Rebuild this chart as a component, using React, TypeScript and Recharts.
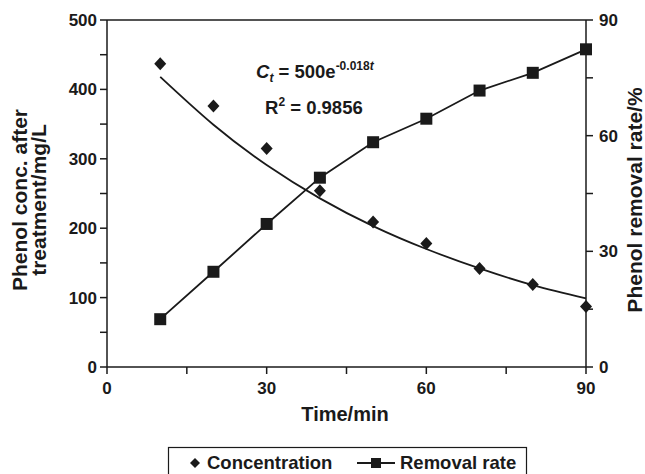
import { ComposedChart, Line, Scatter, XAxis, YAxis, ReferenceLine } from "recharts";

const times = [10, 20, 30, 40, 50, 60, 70, 80, 90];
const concentration = [437, 376, 315, 254, 209, 178, 142, 119, 87];
const fittedCurve = [418, 349, 291, 243, 203, 170, 142, 118, 99];
const removalRate = [12.4, 24.7, 37.1, 49.1, 58.3, 64.4, 71.7, 76.3, 82.4];

const timeTicks = [0, 15, 30, 45, 60, 75, 90];
const concTicks = [0, 50, 100, 150, 200, 250, 300, 350, 400, 450, 500];
const rateTicks = [0, 15, 30, 45, 60, 75, 90];

const FONT = '"Liberation Sans", Arial, Helvetica, sans-serif';
const INK = "#1a1a1a";

const data = times.map((t, i) => ({
  t,
  conc: concentration[i],
  fit: fittedCurve[i],
  removal: removalRate[i],
}));

const tickStyle = { fontSize: 17, fontWeight: 700, fill: INK, fontFamily: FONT };

const Diamond = (props: any) => {
  const { cx, cy } = props;
  if (cx == null || cy == null) return null;
  return (
    <polygon
      points={`${cx},${cy - 6.5} ${cx + 6},${cy} ${cx},${cy + 6.5} ${cx - 6},${cy}`}
      fill={INK}
    />
  );
};

const Square = (props: any) => {
  const { cx, cy, index } = props;
  if (cx == null || cy == null) return null;
  return <rect key={`sq-${index}`} x={cx - 6} y={cy - 6} width={12} height={12} fill={INK} />;
};

const LeftTitle = () => (
  <text
    transform="translate(27, 200) rotate(-90)"
    textAnchor="middle"
    fontFamily={FONT}
    fontWeight={700}
    fontSize={21}
    fill={INK}
  >
    <tspan x={0} dy={0}>Phenol conc. after</tspan>
    <tspan x={0} dy={19}>treatment/mg/L</tspan>
  </text>
);

const RightTitle = () => (
  <text
    transform="translate(642, 200) rotate(-90)"
    textAnchor="middle"
    fontFamily={FONT}
    fontWeight={700}
    fontSize={21}
    fill={INK}
  >
    Phenol removal rate/%
  </text>
);

const BottomTitle = () => (
  <text x={345} y={421} textAnchor="middle" fontFamily={FONT} fontWeight={700} fontSize={20} fill={INK}>
    Time/min
  </text>
);

export default function App() {
  return (
    <div style={{ position: "absolute", left: 0, top: 0, width: 645, height: 474, background: "#fff" }}>
      <ComposedChart
        width={645}
        height={474}
        data={data}
        margin={{ top: 20, right: 0, bottom: 47, left: 0 }}
      >
        <XAxis
          dataKey="t"
          type="number"
          domain={[0, 90]}
          ticks={timeTicks}
          interval={0}
          tickFormatter={(v: number) => (v % 30 === 0 ? String(v) : "")}
          tick={tickStyle}
          tickSize={7}
          tickMargin={8}
          height={60}
          stroke={INK}
          strokeWidth={1.5}
          label={BottomTitle}
        />
        <YAxis
          yAxisId="left"
          orientation="left"
          domain={[0, 500]}
          ticks={concTicks}
          interval={0}
          tickFormatter={(v: number) => (v % 100 === 0 ? String(v) : "")}
          tick={tickStyle}
          tickSize={7}
          tickMargin={3}
          width={107}
          stroke={INK}
          strokeWidth={1.5}
          label={LeftTitle}
        />
        <YAxis
          yAxisId="right"
          orientation="right"
          domain={[0, 90]}
          ticks={rateTicks}
          interval={0}
          tickFormatter={(v: number) => (v % 30 === 0 ? String(v) : "")}
          tick={tickStyle}
          tickSize={7}
          tickMargin={6}
          width={59}
          stroke={INK}
          strokeWidth={1.5}
          label={RightTitle}
        />
        <ReferenceLine yAxisId="left" y={500} stroke={INK} strokeWidth={1.5} />

        <Line
          yAxisId="left"
          type="natural"
          dataKey="fit"
          stroke={INK}
          strokeWidth={1.8}
          dot={false}
          activeDot={false}
          isAnimationActive={false}
        />
        <Scatter
          yAxisId="left"
          dataKey="conc"
          shape={Diamond}
          isAnimationActive={false}
        />
        <Line
          yAxisId="right"
          type="linear"
          dataKey="removal"
          stroke={INK}
          strokeWidth={1.8}
          dot={Square}
          activeDot={false}
          isAnimationActive={false}
        />
      </ComposedChart>

      <svg
        width={645}
        height={474}
        style={{ position: "absolute", left: 0, top: 0, pointerEvents: "none" }}
      >
        {/* fit equation */}
        <text x={256} y={78} fontFamily={FONT} fontWeight={700} fontSize={18.5} fill={INK}>
          <tspan fontStyle="italic">C</tspan>
          <tspan fontStyle="italic" fontSize={12} dy={4}>t</tspan>
          <tspan dy={-4}> = 500e</tspan>
          <tspan fontSize={12} dy={-8}>-0.018</tspan>
          <tspan fontSize={12} fontStyle="italic">t</tspan>
        </text>
        <text x={265} y={114} fontFamily={FONT} fontWeight={700} fontSize={18.5} fill={INK}>
          R
          <tspan fontSize={12} dy={-8}>2</tspan>
          <tspan dy={8}> = 0.9856</tspan>
        </text>

        {/* legend */}
        <rect x={168.5} y={447.5} width={358} height={40} fill="#fff" stroke={INK} strokeWidth={1.2} />
        <polygon points="195,458 200,463 195,468 190,463" fill={INK} />
        <text x={207} y={469} fontFamily={FONT} fontWeight={700} fontSize={18.5} fill={INK}>
          Concentration
        </text>
        <line x1={357} y1={463} x2={395} y2={463} stroke={INK} strokeWidth={1.8} />
        <rect x={371} y={458} width={10} height={10} fill={INK} />
        <text x={400} y={469} fontFamily={FONT} fontWeight={700} fontSize={18.5} fill={INK}>
          Removal rate
        </text>
      </svg>
    </div>
  );
}
